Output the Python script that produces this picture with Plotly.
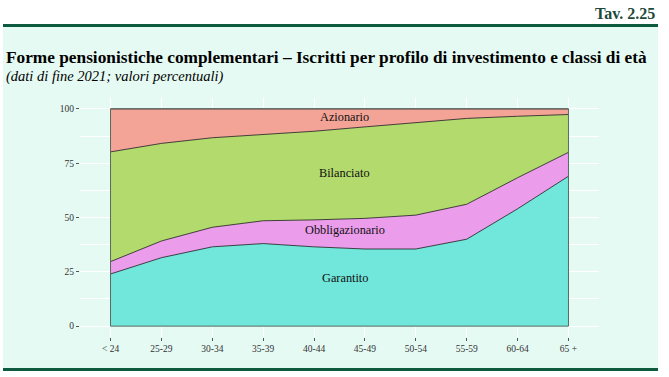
import plotly.graph_objects as go

categories = ["< 24", "25-29", "30-34", "35-39", "40-44", "45-49", "50-54", "55-59", "60-64", "65 +"]
garantito = [24.0, 31.5, 36.5, 38.0, 36.5, 35.5, 35.5, 40.0, 54.0, 69.0]
obbligazionario = [5.7, 7.7, 9.0, 10.5, 12.4, 14.1, 15.6, 16.1, 14.3, 11.0]
bilanciato = [50.5, 44.9, 41.2, 39.7, 40.8, 42.1, 42.5, 39.5, 28.3, 17.4]
azionario = [19.8, 15.9, 13.3, 11.8, 10.3, 8.3, 6.4, 4.4, 3.4, 2.6]
y_ticks = [0, 25, 50, 75, 100]

W, H = 669, 377
L, R, T, B = 80, 70, 98, 40
PW, PH = W - L - R, H - T - B

def px(x):
    return (x - L) / PW

def py(y):
    return (H - B - y) / PH

MINT = "#e5faf3"
DARK = "#0e5a3f"
SERIF = "Liberation Serif, Times New Roman, serif"

series = [
    ("Garantito", garantito, "#71e7db"),
    ("Obbligazionario", obbligazionario, "#eb9ceb"),
    ("Bilanciato", bilanciato, "#b2da6c"),
    ("Azionario", azionario, "#f4a497"),
]

fig = go.Figure()
for name, vals, col in series:
    fig.add_trace(go.Scatter(
        x=categories, y=vals, name=name, stackgroup="one", mode="lines",
        line=dict(color="#1a1a1a", width=0.8), fillcolor=col, showlegend=False,
        hoverinfo="skip",
    ))

totals = [g + o + b + a for g, o, b, a in zip(garantito, obbligazionario, bilanciato, azionario)]
fig.add_trace(go.Scatter(
    x=[categories[0], categories[0], categories[-1], categories[-1]],
    y=[totals[0], 0, 0, totals[-1]],
    mode="lines", line=dict(color="#5a6a60", width=1), showlegend=False, hoverinfo="skip",
))
fig.add_trace(go.Scatter(
    x=categories, y=totals, mode="lines", line=dict(color="#5a6a60", width=1),
    showlegend=False, hoverinfo="skip",
))

# area labels
lab_font = dict(family=SERIF, size=12.3, color="#111")
fig.add_annotation(x=4.6, y=96.2, text="Azionario", showarrow=False, font=lab_font)
fig.add_annotation(x=4.6, y=70.4, text="Bilanciato", showarrow=False, font=lab_font)
fig.add_annotation(x=4.6, y=44.3, text="Obbligazionario", showarrow=False, font=lab_font)
fig.add_annotation(x=4.6, y=22.2, text="Garantito", showarrow=False, font=lab_font)

# header texts
fig.add_annotation(xref="paper", yref="paper", x=px(657), y=py(13), xanchor="right", yanchor="middle",
                   text="<b>Tav. 2.25</b>", showarrow=False, font=dict(family=SERIF, size=16, color="#1c4a3a"))
fig.add_annotation(xref="paper", yref="paper", x=px(4), y=py(57), xanchor="left", yanchor="middle",
                   text="<b>Forme pensionistiche complementari – Iscritti per profilo di investimento e classi di età</b>",
                   showarrow=False, font=dict(family=SERIF, size=17.3, color="#000"))
fig.add_annotation(xref="paper", yref="paper", x=px(4), y=py(76), xanchor="left", yanchor="middle",
                   text="<i>(dati di fine 2021; valori percentuali)</i>",
                   showarrow=False, font=dict(family=SERIF, size=14.5, color="#000"))

shapes = [
    dict(type="rect", xref="paper", yref="paper", x0=px(3), x1=px(658), y0=py(27), y1=py(368),
         fillcolor=MINT, line=dict(width=0), layer="below"),
    dict(type="rect", xref="paper", yref="paper", x0=px(3), x1=px(658), y0=py(24), y1=py(27),
         fillcolor=DARK, line=dict(width=0), layer="below"),
    dict(type="rect", xref="paper", yref="paper", x0=px(3), x1=px(658), y0=py(368), y1=py(371),
         fillcolor=DARK, line=dict(width=0), layer="below"),
]

fig.update_layout(
    width=W, height=H, margin=dict(l=L, r=R, t=T, b=B),
    paper_bgcolor="white", plot_bgcolor=MINT,
    shapes=shapes,
    xaxis=dict(range=[-0.6, 9.6], showgrid=True, gridcolor="white", gridwidth=1,
               ticks="outside", ticklen=3, tickcolor="#555", zeroline=False,
               tickfont=dict(family=SERIF, size=9.5, color="#333"), showline=False),
    yaxis=dict(range=[-5, 105], tickvals=y_ticks, showgrid=True, gridcolor="white", gridwidth=1,
               ticks="outside", ticklen=3, tickcolor="#555", zeroline=False,
               tickfont=dict(family=SERIF, size=9.5, color="#333"), showline=False,
               minor=dict(tickvals=[12.5, 37.5, 62.5, 87.5], showgrid=True, gridcolor="white", gridwidth=0.5, ticks="")),
)

fig.write_html("out.html", config={"displayModeBar": False},
               post_script="document.body.style.margin='0';document.body.style.overflow='hidden';")
